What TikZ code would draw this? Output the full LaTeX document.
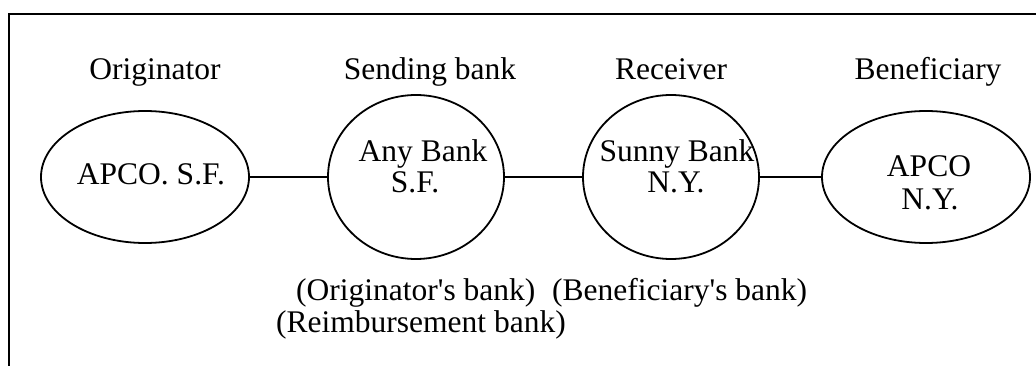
\documentclass[tikz,border=0pt]{standalone}
\usepackage{fontspec}
\setmainfont{Liberation Serif}
\usetikzlibrary{shapes.geometric}
\begin{document}
\begin{tikzpicture}[x=1pt,y=-1pt,
  party/.style={draw, ellipse, line width=1.8pt, inner sep=0pt,
                minimum width=#1},
  oval/.style={party=208pt, minimum height=132pt},
  round/.style={party=176pt, minimum height=164pt},
  link/.style={line width=1.8pt},
  txt/.style={font=\fontsize{31.5}{33}\selectfont, inner sep=0pt, anchor=base},
  txtw/.style={txt, anchor=base west}]
  \useasboundingbox (0,0) rectangle (1036,366);

  % open frame (runs off the right and bottom edges)
  \draw[line width=2.4pt] (1040,14) -- (9,14) -- (9,370);

  % the four parties of the transfer
  \node[oval]  (orig) at (145,177) {};
  \node[round] (send) at (416,177) {};
  \node[round] (recv) at (671,177) {};
  \node[oval]  (bene) at (926,177) {};

  \draw[link] (orig.east) -- (send.west);
  \draw[link] (send.east) -- (recv.west);
  \draw[link] (recv.east) -- (bene.west);

  % role captions
  \node[txt] (tOrig) at (155,80) {Originator};
  \node[txt] (tSend) at (430,80) {Sending bank};
  \node[txt] (tRecv) at (671,80) {Receiver};
  \node[txt] (tBene) at (928,80) {Beneficiary};

  % names inside the shapes
  \node[txt] (nOrig)  at (151,185) {APCO. S.F.};
  \node[txt] (nSend1) at (423,162) {Any Bank};
  \node[txt] (nSend2) at (415,193) {S.F.};
  \node[txt] (nRecv1) at (677,162) {Sunny Bank};
  \node[txt] (nRecv2) at (676,193) {N.Y.};
  \node[txt] (nBene1) at (929,177) {APCO};
  \node[txt] (nBene2) at (930,210) {N.Y.};

  % bank roles underneath
  \node[txtw] (rOrigBank) at (296,300) {(Originator\textquotesingle s bank)};
  \node[txtw] (rBeneBank) at (552,300) {(Beneficiary\textquotesingle s bank)};
  \node[txtw] (rReimb)    at (276,332) {(Reimbursement bank)};
\end{tikzpicture}
\end{document}
